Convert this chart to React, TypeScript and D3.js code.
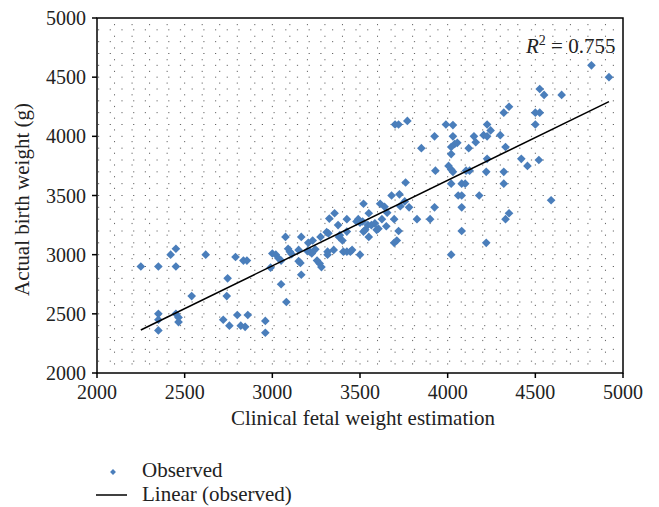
import React from "react";
import * as d3 from "d3";

const clinicalEstimate: number[] = [
  2250, 2350, 2420, 2450, 2450, 2620, 2790, 2835, 2855, 2745, 2540, 2740, 2350, 2350, 2350, 2450, 2465, 2465, 2720, 2755, 2800, 2860, 2820, 2845, 2960, 2960,
  2990, 3000, 3020, 3035, 3050, 3050, 3080, 3075, 3090, 3100, 3110, 3150, 3150, 3160, 3165, 3165, 3205, 3230, 3215, 3225, 3245, 3200, 3255, 3270, 3280, 3275, 3310, 3320, 3325, 3355, 3375, 3380, 3400, 3425, 3315, 3315, 3350, 3405, 3425, 3445, 3455, 3480, 3500, 3515, 3520, 3520, 3425, 3385,
  3500, 3490, 3545, 3530, 3565, 3585, 3595, 3605, 3550, 3550, 3615, 3640, 3655, 3625, 3650, 3695, 3720, 3695, 3710, 3680, 3725, 3730, 3755, 3780, 3760, 3700, 3720, 3770, 3825, 3900, 3925, 3930, 3925, 3850,
  3990, 4030, 4030, 4020, 4040, 4055, 4020, 4005, 4020, 4030, 4020, 4080, 4100, 4105, 4125, 4060, 4080, 4080, 4080, 4020, 4120, 4150, 4160, 4180, 4205, 4225, 4225, 4245, 4225, 4220, 4220, 4300, 4330, 4320, 4350, 4320, 4320, 4330, 4350,
  4420, 4455, 4500, 4525, 4500, 4525, 4550, 4520, 4590, 4650, 4820, 4920,
];
const actualWeight: number[] = [
  2900, 2900, 3000, 3050, 2900, 3000, 2980, 2950, 2950, 2800, 2650, 2650, 2500, 2450, 2360, 2500, 2470, 2430, 2450, 2400, 2490, 2490, 2400, 2390, 2440, 2340,
  2890, 3010, 3000, 2970, 2950, 2750, 2600, 3150, 3050, 3025, 3005, 3040, 2945, 2930, 2830, 3150, 3100, 3120, 3025, 3010, 3045, 3030, 2950, 2925, 2895, 3150, 3190, 3180, 3305, 3350, 3250, 3150, 3120, 3300, 3025, 3000, 3040, 3025, 3025, 3025, 3040, 3280, 3270, 3280, 3195, 3430, 3195, 3165,
  3000, 3300, 3250, 3210, 3250, 3265, 3210, 3220, 3150, 3350, 3430, 3405, 3355, 3300, 3240, 3300, 3200, 3100, 3120, 3500, 3510, 3410, 3450, 3400, 3610, 4100, 4100, 4130, 3300, 3300, 3400, 3710, 4000, 3900,
  4100, 4095, 4000, 3910, 3935, 3945, 3850, 3750, 3720, 3700, 3600, 3600, 3600, 3710, 3710, 3500, 3500, 3400, 3200, 3000, 3900, 4000, 3950, 3500, 4010, 4100, 4000, 4050, 3810, 3700, 3100, 4010, 3910, 4200, 4250, 3700, 3600, 3300, 3350,
  3810, 3750, 4200, 4200, 4100, 4400, 4350, 3800, 3460, 4350, 4600, 4500,
];

const xTicks: number[] = [2000, 2500, 3000, 3500, 4000, 4500, 5000];
const yTicks: number[] = [2000, 2500, 3000, 3500, 4000, 4500, 5000];
const trendSlope = 0.7225;
const trendIntercept = 738;
const rSquaredText = "0.755";
const xTitle = "Clinical fetal weight estimation";
const yTitle = "Actual birth weight (g)";
const legendLabels: string[] = ["Observed", "Linear (observed)"];

const W = 659;
const H = 507;
const left = 97, right = 623, top = 18, bottom = 373;
const FONT = "'Liberation Serif', 'Times New Roman', serif";
const BLUE = "#4a7ebb";
const TEXT = "#222";

export default function App() {
  const x = d3.scaleLinear().domain([2000, 5000]).range([left, right]);
  const y = d3.scaleLinear().domain([2000, 5000]).range([bottom, top]);
  const minorX = d3.range(2100, 5000, 100);
  const minorY = d3.range(2100, 5000, 100);
  const diamond = d3.symbol().type(d3.symbolDiamond2).size(48)();
  const legendDiamond = d3.symbol().type(d3.symbolDiamond2).size(22)();
  const tx0 = d3.min(clinicalEstimate) as number;
  const tx1 = d3.max(clinicalEstimate) as number;
  const trend = d3.line<number>().x((d) => x(d)).y((d) => y(trendIntercept + trendSlope * d));

  return (
    <svg width={W} height={H} style={{ position: "absolute", left: 0, top: 0, background: "#fff" }} fontFamily={FONT}>
      <rect x={0} y={0} width={W} height={H} fill="#fff" />
      <g>
        {minorY.map((v) => (
          <line key={"h" + v} x1={left + 1} x2={right} y1={y(v)} y2={y(v)} stroke="#666" strokeWidth={1} strokeDasharray="1.2,10.5" />
        ))}
        {minorX.map((v) => (
          <line key={"v" + v} x1={x(v)} x2={x(v)} y1={top + 6} y2={bottom} stroke="#666" strokeWidth={1} strokeDasharray="1.2,10.5" />
        ))}
      </g>
      <rect x={left} y={top} width={right - left} height={bottom - top} fill="none" stroke="#000" strokeWidth={1.5} />
      {xTicks.map((t) => (
        <g key={"xt" + t}>
          <line x1={x(t)} x2={x(t)} y1={bottom} y2={bottom + 5} stroke="#000" strokeWidth={1.5} />
          <text x={x(t)} y={399} textAnchor="middle" fontSize={20} fill={TEXT}>{t}</text>
        </g>
      ))}
      {yTicks.map((t) => (
        <g key={"yt" + t}>
          <line x1={left - 5} x2={left} y1={y(t)} y2={y(t)} stroke="#000" strokeWidth={1.5} />
          <text x={86} y={y(t)} dy="0.35em" textAnchor="end" fontSize={20} fill={TEXT}>{t}</text>
        </g>
      ))}
      {clinicalEstimate.map((cx, i) => (
        <path key={"p" + i} d={diamond as string} transform={`translate(${x(cx)},${y(actualWeight[i])})`} fill={BLUE} />
      ))}
      <path d={trend([tx0, tx1]) as string} stroke="#000" strokeWidth={1.5} fill="none" />
      <text x={526} y={53} fontSize={21} fill={TEXT}>
        <tspan fontStyle="italic">R</tspan>
        <tspan dy={-8} fontSize={14}>2</tspan>
        <tspan dy={8}>{" = " + rSquaredText}</tspan>
      </text>
      <text x={(left + right) / 2 + 3} y={425} textAnchor="middle" fontSize={21} fill={TEXT}>{xTitle}</text>
      <text transform={`translate(29,${(top + bottom) / 2 + 4}) rotate(-90)`} textAnchor="middle" fontSize={21} fill={TEXT}>{yTitle}</text>
      <path d={legendDiamond as string} transform="translate(113,472)" fill={BLUE} />
      <text x={142} y={477} fontSize={21} fill={TEXT}>{legendLabels[0]}</text>
      <line x1={96} x2={127} y1={495} y2={495} stroke="#000" strokeWidth={1.5} />
      <text x={142} y={501} fontSize={21} fill={TEXT}>{legendLabels[1]}</text>
    </svg>
  );
}
